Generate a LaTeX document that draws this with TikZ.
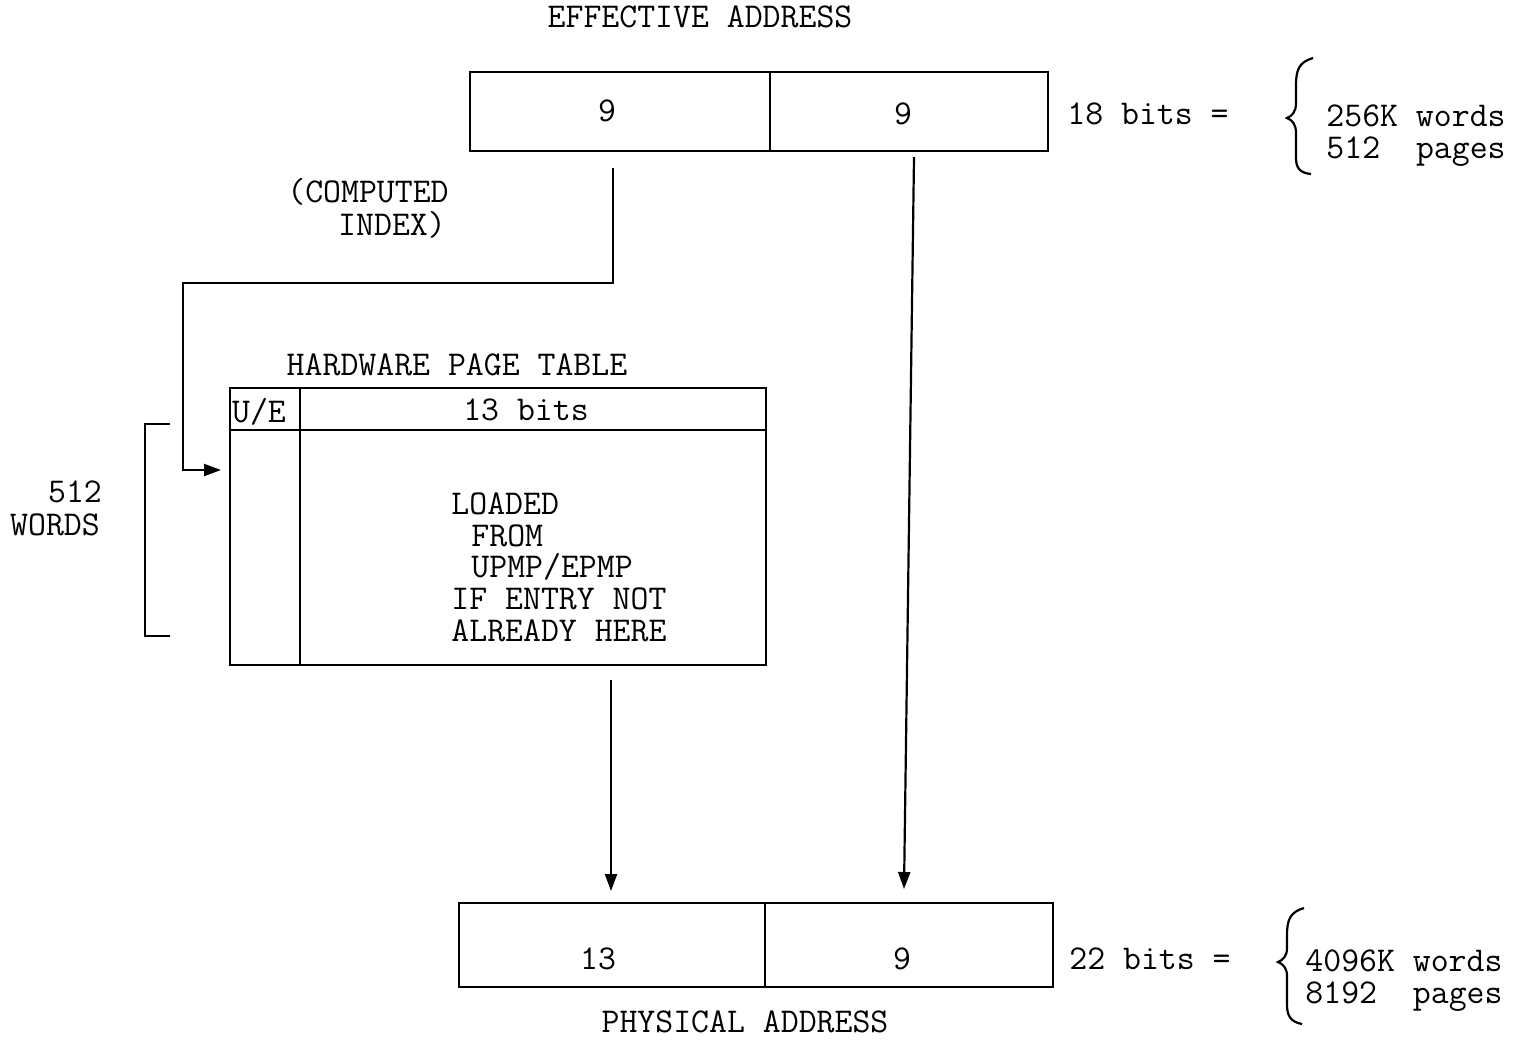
\documentclass[tikz,border=0pt]{standalone}
\usepackage{fontspec}
\usetikzlibrary{arrows.meta}
\begin{document}
\begin{tikzpicture}[x=0.5pt,y=-0.5pt,
  lbl/.style={font=\ttfamily\fontsize{17.4}{18}\selectfont, inner sep=0pt, anchor=base},
  lblw/.style={lbl, anchor=base west},
  frame/.style={draw, line width=1.4pt, rectangle, inner sep=0pt},
  conn/.style={line width=1.1pt, -{Triangle[length=8.5pt,width=6pt]}},
  brc/.style={line width=1.1pt},
]
\useasboundingbox (0,0) rectangle (1530,1040);

% effective address
\node[lbl] (eatitle) at (700,27) {EFFECTIVE ADDRESS};
\node[frame, minimum width=150pt, minimum height=39.5pt] (ea1) at (620,111.5) {};
\node[frame, minimum width=139pt, minimum height=39.5pt] (ea2) at (909,111.5) {};
\node[lbl] (ea1t) at (607,121) {9};
\node[lbl] (ea2t) at (903,124) {9};
\node[lbl] (eabits) at (1148,124) {18 bits =};
\draw[brc] (1313,58) .. controls (1299,62) and (1296,70) .. (1296,85) -- (1296,103)
  .. controls (1296,112) and (1292,116) .. (1287,118)
  .. controls (1292,120) and (1296,124) .. (1296,133) -- (1296,158)
  .. controls (1296,168) and (1300,173) .. (1311,174);
\node[lblw] (eaw) at (1326,126) {256K words};
\node[lblw] (eap) at (1326,158) {512\ \ pages};

% computed index
\node[lbl] (ci1t) at (368,202) {(COMPUTED};
\node[lbl] (ci2t) at (392,235) {INDEX)};
\coordinate (ci0) at (613,168);
\coordinate (ci1) at (221,470);
\draw[conn] (ci0) -- (613,283) -- (183,283) |- (ci1);

% hardware page table
\node[lbl] (hpttitle) at (457,375) {HARDWARE PAGE TABLE};
\node[frame, minimum width=268pt, minimum height=138.5pt] (hpt) at (498,526.5) {};
\coordinate (hl) at (230,430);
\coordinate (hr) at (766,430);
\coordinate (dt) at (300,388);
\coordinate (db) at (300,665);
\draw[line width=1.4pt] (hl) -- (hr);
\draw[line width=1.1pt] (dt) -- (db);
\node[lbl] (uet) at (259,422) {U/E};
\node[lbl] (bitst) at (526,420) {13 bits};
\node[lblw] (l1) at (451,514) {LOADED};
\node[lblw] (l2) at (471,546) {FROM};
\node[lblw] (l3) at (471,577) {UPMP/EPMP};
\node[lblw] (l4) at (451,609) {IF ENTRY NOT};
\node[lblw] (l5) at (451,641) {ALREADY HERE};

% 512 words bracket
\coordinate (bt) at (170,424);
\coordinate (bb) at (170,636);
\draw[line width=1.1pt] (bt) -- (145,424) -- (145,636) -- (bb);
\node[lbl] (w1) at (75,502) {512};
\node[lbl] (w2) at (55,535) {WORDS};

% arrows to physical address
\coordinate (ta0) at (611,680);
\coordinate (ta1) at (611,891);
\draw[conn] (ta0) -- (ta1);
\coordinate (ra0) at (914,157);
\coordinate (ra1) at (904,889);
\draw[conn] (ra0) -- (ra1);

% physical address
\node[frame, minimum width=153pt, minimum height=42pt] (pa1) at (612,945) {};
\node[frame, minimum width=144pt, minimum height=42pt] (pa2) at (909,945) {};
\node[lbl] (pa1t) at (598,969) {13};
\node[lbl] (pa2t) at (902,969) {9};
\node[lbl] (pabits) at (1150,969) {22 bits =};
\draw[brc] (1304,908) .. controls (1290,912) and (1287,920) .. (1287,935) -- (1287,948)
  .. controls (1287,956) and (1283,960) .. (1278,962)
  .. controls (1283,964) and (1287,968) .. (1287,976) -- (1287,1005)
  .. controls (1287,1016) and (1291,1022) .. (1302,1024);
\node[lblw] (paw) at (1305,971) {4096K words};
\node[lblw] (pap) at (1305,1003) {8192\ \ pages};
\node[lbl] (patitle) at (745,1032) {PHYSICAL ADDRESS};
\end{tikzpicture}
\end{document}
